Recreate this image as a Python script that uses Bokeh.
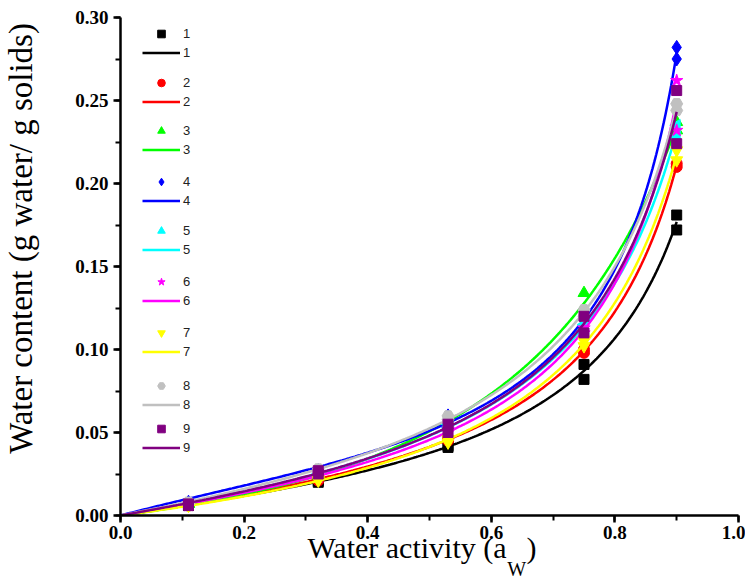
import numpy as np
from bokeh.plotting import figure
from bokeh.models import (Legend, LegendItem, Range1d, SingleIntervalTicker,
                          PrintfTickFormatter, LinearAxis, FixedTicker)
from bokeh.core.properties import value
from bokeh.embed import file_html
from bokeh.resources import INLINE

# ---- data ----
aw_pts = [0.11, 0.11, 0.32, 0.32, 0.53, 0.53, 0.75, 0.75, 0.90, 0.90]
wc1 = [0.006, 0.006, 0.020, 0.021, 0.041, 0.042, 0.091, 0.082, 0.181, 0.172]
wc2 = [0.007, 0.006, 0.022, 0.021, 0.047, 0.045, 0.100, 0.098, 0.212, 0.210]
wc3 = [0.007, 0.007, 0.025, 0.024, 0.057, 0.055, 0.134, 0.120, 0.237, 0.232]
wc4 = [0.008, 0.007, 0.027, 0.026, 0.060, 0.058, 0.118, 0.115, 0.282, 0.275]
wc5 = [0.007, 0.007, 0.025, 0.024, 0.055, 0.053, 0.115, 0.112, 0.235, 0.228]
wc6 = [0.007, 0.006, 0.024, 0.023, 0.052, 0.050, 0.113, 0.110, 0.262, 0.232]
wc7 = [0.006, 0.006, 0.022, 0.021, 0.046, 0.044, 0.105, 0.102, 0.220, 0.214]
wc8 = [0.008, 0.007, 0.028, 0.026, 0.060, 0.058, 0.124, 0.120, 0.248, 0.244]
wc9 = [0.007, 0.006, 0.027, 0.025, 0.055, 0.050, 0.120, 0.110, 0.256, 0.224]
series_names = ["1", "2", "3", "4", "5", "6", "7", "8", "9"]
series_values = [wc1, wc2, wc3, wc4, wc5, wc6, wc7, wc8, wc9]

colors = ["#000000", "#FF0000", "#00FF00", "#0000FF", "#00FFFF",
          "#FF00FF", "#FFFF00", "#C0C0C0", "#800080"]
markers = ["square", "circle", "triangle", "diamond", "triangle",
           "star", "inverted_triangle", "hex", "square"]
angles = [0, 0, 0, 0, np.pi / 2, 0, 0, 0, 0]
sizes = [10, 11, 12, 14, 12, 13, 12, 12, 10]

x_ticks_interval = 0.2
y_ticks_interval = 0.05

x_title_main = "Water activity (a"
x_title_sub = "W"
x_title_close = ")"
y_title = "Water content (g water/ g solids)"


def gab_curve(x, m):
    """GAB isotherm fitted (linearised form aw/M = a*aw^2 + b*aw + c)."""
    x = np.asarray(x, dtype=float)
    m = np.asarray(m, dtype=float)
    coef = np.polyfit(x, x / m, 2, w=m ** 2 / x)
    xs = np.linspace(0.0, 0.9, 300)
    return xs, xs / np.polyval(coef, xs)


p = figure(frame_width=618, frame_height=498, output_backend="svg", toolbar_location=None,
           x_range=Range1d(0, 1.0), y_range=Range1d(0, 0.3000001),
           min_border_left=120, min_border_right=7, min_border_top=17, min_border_bottom=40)
p.outline_line_color = None
p.xgrid.grid_line_color = None
p.ygrid.grid_line_color = None

for ax, interval, fmt in ((p.xaxis, x_ticks_interval, "%.1f"), (p.yaxis, y_ticks_interval, "%.2f")):
    ax.ticker = SingleIntervalTicker(interval=interval, num_minor_ticks=2)
    ax.formatter = PrintfTickFormatter(format=fmt)
    ax.axis_line_width = 2.5
    ax.axis_line_color = "black"
    ax.major_tick_line_width = 2.5
    ax.minor_tick_line_width = 2
    ax.major_tick_in = 0
    ax.major_tick_out = 7
    ax.minor_tick_in = 0
    ax.minor_tick_out = 5
    ax.major_label_text_font = "Liberation Serif"
    ax.major_label_text_font_style = "bold"
    ax.major_label_text_font_size = "19px"
    ax.major_label_text_color = "black"
p.yaxis.major_label_standoff = 5
p.xaxis.major_label_standoff = 3

line_rs = []
pt_rs = []
for i, vals in enumerate(series_values):
    xs, ys = gab_curve(aw_pts, vals)
    lr = p.line(xs, ys, line_color=colors[i], line_width=2.5)
    sr = p.scatter(aw_pts, vals, marker=markers[i], size=sizes[i], angle=angles[i],
                   fill_color=colors[i], line_color=colors[i])
    line_rs.append(lr)
    pt_rs.append(sr)

# legend groups: bottom offset of each group (px above frame bottom)
group_line_rows = [52, 101, 149, 200, 249, 300, 351, 404, 447]
for i, name in enumerate(series_names):
    vy = 515 - (group_line_rows[i] + 9.5)
    lg = Legend(items=[LegendItem(label=value(name), renderers=[pt_rs[i]]),
                       LegendItem(label=value(name), renderers=[line_rs[i]])],
                location=(22, vy), glyph_width=38, glyph_height=19, label_height=19,
                label_standoff=3, spacing=0, padding=0, margin=0,
                border_line_color=None, background_fill_alpha=0,
                label_text_font="Liberation Sans", label_text_font_size="13px",
                label_text_color="#222222")
    p.add_layout(lg, "center")


# axis titles written as tick labels of bare extra axes (allows subscript / offset)
def title_axis(side, ticks, labels, size, standoff, orientation="horizontal"):
    ax = LinearAxis(ticker=FixedTicker(ticks=ticks),
                    major_label_overrides=dict(zip(ticks, labels)),
                    axis_line_color=None, major_tick_line_color=None,
                    minor_tick_line_color=None, major_tick_out=0, major_tick_in=0,
                    major_label_standoff=standoff,
                    major_label_orientation=orientation,
                    major_label_text_font="Liberation Serif",
                    major_label_text_font_size=size,
                    major_label_text_color="black")
    p.add_layout(ax, side)
    return ax


t_main, t_close, t_sub = 0.4636, 0.665, 0.641
title_axis("below", [t_main, t_close], [x_title_main, x_title_close], "30px", -11)
title_axis("below", [t_sub], [x_title_sub], "20px", -9)

t_ytitle = 0.1669
title_axis("left", [t_ytitle], [y_title], "33px", 33, orientation="vertical")

open("out.html", "w").write(file_html(p, INLINE))
